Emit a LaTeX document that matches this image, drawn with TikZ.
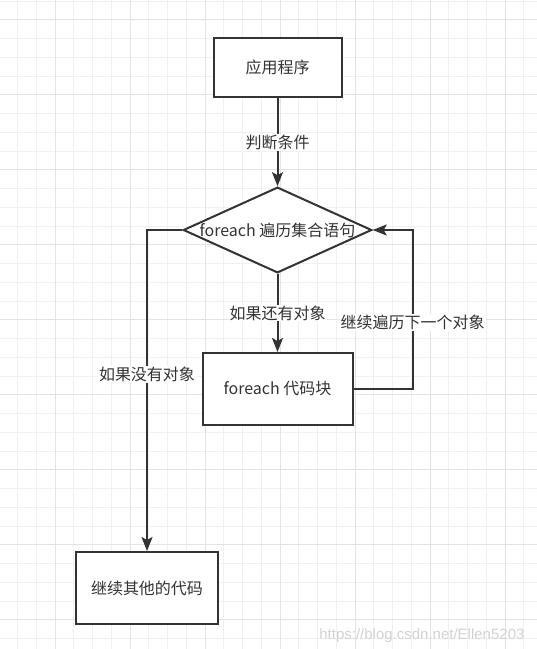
\documentclass[tikz,border=0pt]{standalone}
\usepackage{fontspec}
\setmainfont{Noto Sans CJK SC}
\newfontfamily\markfont{Liberation Sans}
\usetikzlibrary{shapes.geometric,arrows.meta}
\definecolor{ink}{HTML}{333333}
\definecolor{gridminor}{HTML}{F0F0F0}
\definecolor{gridmajor}{HTML}{E3E3E3}
\begin{document}
\begin{tikzpicture}[
      x=1pt, y=-1pt,
      every node/.style={font=\fontsize{16}{19}\selectfont, text=ink},
      box/.style={rectangle, draw=ink, line width=2pt, fill=white},
      decision/.style={diamond, draw=ink, line width=2pt, fill=white, aspect=2.2, inner sep=0pt},
      flow/.style={draw=ink, line width=2pt, -{Stealth[length=14pt,width=11pt,inset=3pt]}},
      cond/.style={fill=white, inner sep=1pt}
      ]
  \useasboundingbox (0,0) rectangle (537,649);
  \fill[white] (0,0) rectangle (537,649);
  \foreach \k in {-2,...,25}
    \draw[gridminor, line width=1pt] (55.2+18.75*\k,0) -- (55.2+18.75*\k,649);
  \foreach \k in {-5,...,29}
    \draw[gridminor, line width=1pt] (0,94.8+18.75*\k) -- (537,94.8+18.75*\k);
  \foreach \k in {0,4,...,24}
    \draw[gridmajor, line width=1pt] (55.2+18.75*\k,0) -- (55.2+18.75*\k,649);
  \foreach \k in {-4,0,...,28}
    \draw[gridmajor, line width=1pt] (0,94.8+18.75*\k) -- (537,94.8+18.75*\k);

  \node[box, minimum width=128pt, minimum height=59pt] (app) at (277.5,67.7) {应用程序};
  \node[decision] (loop) at (277.5,230) {foreach 遍历集合语句};
  \node[box, minimum width=150pt, minimum height=72pt] (body) at (277.5,389) {foreach 代码块};
  \node[box, minimum width=142pt, minimum height=72pt] (rest) at (147,588) {继续其他的代码};

  \draw[flow] (app) -- node[cond] {判断条件} (loop);
  \draw[flow] (loop) -- node[cond] {如果还有对象} (body);
  \draw[flow] (body.east) -- ++(59,0) |- node[cond, pos=0.21] {继续遍历下一个对象} (loop.east);
  \draw[flow] (loop.west) -| node[cond, pos=0.725] {如果没有对象} (rest.north);

  \node[text=gray!35, font=\markfont\fontsize{15}{18}\selectfont, anchor=east] (mark) at (528,636) {https://blog.csdn.net/Ellen5203};
\end{tikzpicture}
\end{document}
